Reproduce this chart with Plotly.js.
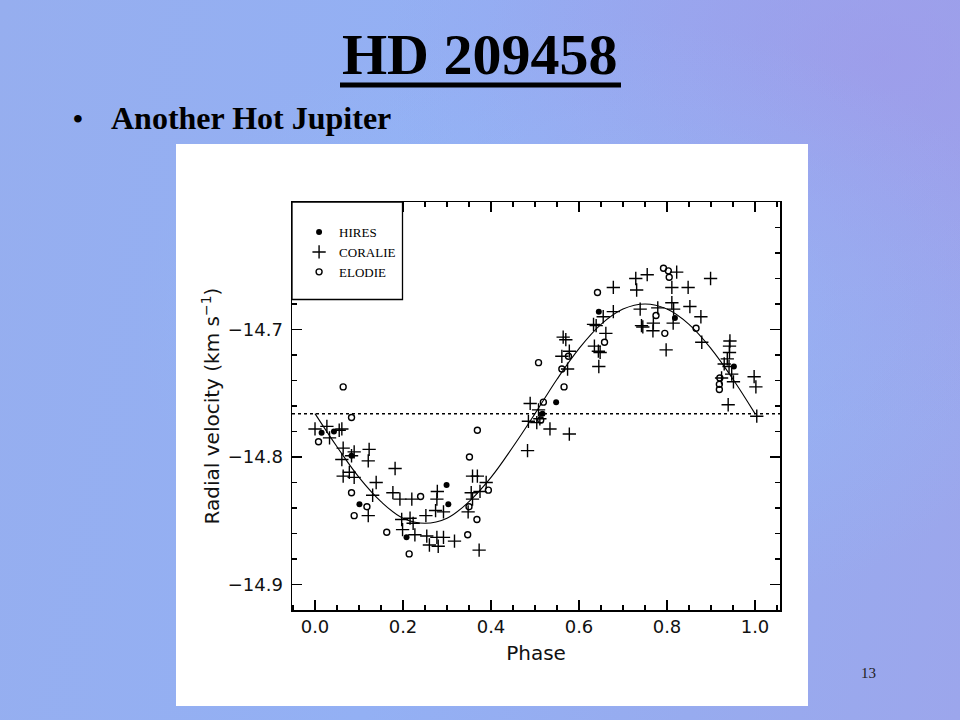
<!DOCTYPE html>
<html>
<head>
<meta charset="utf-8">
<script src="https://cdn.plot.ly/plotly-3.0.1.min.js"></script>
<style>
  html, body { margin: 0; padding: 0; }
  body {
    width: 960px; height: 720px; overflow: hidden;
    background:
      radial-gradient(ellipse at 62% 45%, rgba(150,190,250,0.55), rgba(150,190,250,0) 55%),
      radial-gradient(ellipse at 92% 8%, rgba(160,150,232,0.6), rgba(160,150,232,0) 40%),
      linear-gradient(100deg, #96aeef 0%, #93b0f4 45%, #97abef 75%, #9ca6ec 100%);
  }
  #chart { width: 960px; height: 720px; }
</style>
</head>
<body>
<div id="chart"></div>
<script>
// ---- data ----
const hiresPhase = [0.015, 0.043, 0.083, 0.101, 0.208, 0.299, 0.303, 0.517, 0.548, 0.645, 0.818, 0.952];
const hiresRV    = [-14.781, -14.780, -14.799, -14.837, -14.863, -14.822, -14.837, -14.766, -14.757, -14.686, -14.691, -14.729];

const elodiePhase = [0.064, 0.083, 0.008, 0.083, 0.118, 0.089, 0.163, 0.214, 0.240, 0.351, 0.369, 0.394, 0.350, 0.368, 0.347,
                     0.508, 0.519, 0.513, 0.566, 0.561, 0.576, 0.642, 0.658, 0.792, 0.803, 0.805, 0.775, 0.795, 0.866,
                     0.920, 0.919, 0.919];
const elodieRV    = [-14.745, -14.769, -14.788, -14.828, -14.839, -14.846, -14.859, -14.876, -14.831, -14.800, -14.779, -14.826, -14.839, -14.849, -14.861,
                     -14.726, -14.757, -14.771, -14.745, -14.731, -14.721, -14.671, -14.710, -14.652, -14.654, -14.659, -14.689, -14.703, -14.699,
                     -14.738, -14.743, -14.747];

const coraliePhase = [0.000, 0.027, 0.033, 0.055, 0.061, 0.064, 0.061, 0.089, 0.083, 0.123, 0.121, 0.064, 0.078, 0.089, 0.139,
                      0.182, 0.131, 0.177, 0.193, 0.121, 0.220, 0.278, 0.277, 0.274, 0.292, 0.252, 0.216, 0.223, 0.197,
                      0.199, 0.227, 0.254, 0.260, 0.277, 0.280, 0.292, 0.317, 0.373, 0.358, 0.369, 0.355, 0.375, 0.389,
                      0.358, 0.348,
                      0.489, 0.508, 0.485, 0.504, 0.511, 0.534, 0.578, 0.483, 0.564, 0.570, 0.578, 0.561, 0.574,
                      0.633, 0.639, 0.655, 0.678, 0.678, 0.635, 0.644, 0.648, 0.645, 0.661,
                      0.729, 0.755, 0.731, 0.739, 0.742, 0.745, 0.769, 0.768, 0.779, 0.798, 0.822, 0.811, 0.811, 0.815,
                      0.814, 0.848, 0.852, 0.877, 0.879, 0.899,
                      0.943, 0.942, 0.942, 0.937, 0.930, 0.941, 0.947, 0.951, 0.924, 0.939, 0.998, 1.002, 1.004];
const coralieRV    = [-14.778, -14.776, -14.785, -14.779, -14.778, -14.793, -14.802, -14.796, -14.799, -14.794, -14.803, -14.815, -14.812, -14.816, -14.820,
                      -14.809, -14.830, -14.828, -14.833, -14.846, -14.833, -14.827, -14.833, -14.842, -14.843, -14.846, -14.848, -14.852, -14.849,
                      -14.857, -14.861, -14.862, -14.869, -14.863, -14.870, -14.863, -14.866, -14.873, -14.815, -14.815, -14.828, -14.827, -14.820,
                      -14.833, -14.843,
                      -14.758, -14.763, -14.772, -14.773, -14.770, -14.778, -14.782, -14.795, -14.706, -14.708, -14.717, -14.721, -14.731,
                      -14.696, -14.697, -14.690, -14.686, -14.667, -14.713, -14.717, -14.718, -14.729, -14.703,
                      -14.660, -14.657, -14.669, -14.684, -14.697, -14.698, -14.695, -14.701, -14.683, -14.716, -14.655, -14.667, -14.679, -14.684,
                      -14.695, -14.667, -14.682, -14.690, -14.710, -14.660,
                      -14.709, -14.713, -14.718, -14.723, -14.727, -14.729, -14.735, -14.741, -14.738, -14.759, -14.737, -14.745, -14.768];

const fitPhase = [0.00, 0.05, 0.10, 0.15, 0.20, 0.25, 0.30, 0.35, 0.40, 0.45, 0.50,
                  0.55, 0.60, 0.65, 0.70, 0.75, 0.80, 0.85, 0.90, 0.95, 1.00];
const fitRV    = [-14.766, -14.792, -14.816, -14.835, -14.848, -14.852, -14.848, -14.835, -14.816, -14.792, -14.766,
                  -14.739, -14.715, -14.696, -14.684, -14.680, -14.684, -14.696, -14.715, -14.739, -14.766];

const systemicRV = -14.766;

const yTickVals = [-14.9, -14.8, -14.7];
const xTickVals = [0.0, 0.2, 0.4, 0.6, 0.8, 1.0];

const slideTitle = "HD 209458";
const bulletText = "Another Hot Jupiter";
const pageNumber = "13";

// ---- layout geometry (pixels -> paper coords) ----
const M = {l: 292, r: 180, t: 202, b: 110};
const PW = 960 - M.l - M.r, PH = 720 - M.t - M.b;
const px = x => (x - M.l) / PW;
const py = y => (720 - M.b - y) / PH;

const serif = "Liberation Serif, Times New Roman, serif";
const sans = "DejaVu Sans, sans-serif";

const traces = [
  {x: hiresPhase, y: hiresRV, name: "HIRES", type: "scatter", mode: "markers",
   marker: {symbol: "circle", size: 6, color: "black"}},
  {x: coraliePhase, y: coralieRV, name: "CORALIE", type: "scatter", mode: "markers",
   marker: {symbol: "cross-thin-open", size: 9.5, color: "black", line: {width: 1.4, color: "black"}}},
  {x: elodiePhase, y: elodieRV, name: "ELODIE", type: "scatter", mode: "markers",
   marker: {symbol: "circle-open", size: 6, color: "black", line: {width: 1.4, color: "black"}}},
  {x: fitPhase, y: fitRV, name: "fit", type: "scatter", mode: "lines", showlegend: false,
   line: {shape: "spline", smoothing: 1.1, color: "black", width: 1.1}}
];

const axisCommon = {
  showline: true, linecolor: "black", linewidth: 1.5, mirror: "ticks",
  ticks: "inside", ticklen: 10, tickwidth: 1.2, tickcolor: "black",
  showgrid: false, zeroline: false,
  tickfont: {family: sans, size: 18, color: "#111"},
  minor: {ticks: "inside", ticklen: 5, tickwidth: 1.1, tickcolor: "black", showgrid: false}
};

const layout = {
  width: 960, height: 720,
  margin: M,
  paper_bgcolor: "rgba(0,0,0,0)",
  plot_bgcolor: "white",
  showlegend: true,
  legend: {x: 0.0145, y: 0.963, xanchor: "left", yanchor: "top",
           bgcolor: "rgba(0,0,0,0)", borderwidth: 0,
           font: {family: serif, size: 13, color: "black"},
           itemwidth: 30, tracegroupgap: 0},
  xaxis: Object.assign({}, axisCommon, {
    range: [-0.0523, 1.0568], tickvals: xTickVals, tickformat: ".1f",
    minor: Object.assign({}, axisCommon.minor, {dtick: 0.05, tick0: 0}),
    title: {text: "Phase", font: {family: sans, size: 20, color: "#111"}, standoff: 10}
  }),
  yaxis: Object.assign({}, axisCommon, {
    range: [-14.92, -14.6], tickvals: yTickVals, tickformat: ".1f",
    ticklabelstandoff: 4,
    minor: Object.assign({}, axisCommon.minor, {dtick: 0.02, tick0: -14.6}),
    title: {text: "Radial velocity (km s<sup>−1</sup>)", font: {family: sans, size: 20, color: "#111"}, standoff: 2}
  }),
  shapes: [
    // white picture area
    {type: "rect", xref: "paper", yref: "paper", layer: "below",
     x0: px(176), x1: px(808), y0: py(706), y1: py(144),
     fillcolor: "white", line: {width: 0}},
    // systemic velocity dotted line
    {type: "line", xref: "paper", yref: "y", x0: 0, x1: 1, y0: systemicRV, y1: systemicRV,
     line: {color: "black", width: 1.5, dash: "dot"}},
    // legend box
    {type: "rect", xref: "paper", yref: "paper", layer: "above",
     x0: 0, x1: px(402.5), y0: py(299.5), y1: 1,
     fillcolor: "white", line: {color: "black", width: 1.3}},
    // title underline
    {type: "line", xref: "paper", yref: "paper",
     x0: px(340), x1: px(621), y0: py(85), y1: py(85),
     line: {color: "black", width: 5}}
  ],
  annotations: [
    {text: "<b>" + slideTitle + "</b>", xref: "paper", yref: "paper", x: px(480), y: py(55),
     xanchor: "center", yanchor: "middle", showarrow: false,
     font: {family: serif, size: 58, color: "black"}},
    {text: "<b>•</b>", xref: "paper", yref: "paper", x: px(78), y: py(118),
     xanchor: "center", yanchor: "middle", showarrow: false,
     font: {family: serif, size: 28, color: "black"}},
    {text: "<b>" + bulletText + "</b>", xref: "paper", yref: "paper", x: px(109), y: py(118),
     xanchor: "left", yanchor: "middle", showarrow: false,
     font: {family: serif, size: 32, color: "black"}},
    {text: pageNumber, xref: "paper", yref: "paper", x: px(868), y: py(673),
     xanchor: "center", yanchor: "middle", showarrow: false,
     font: {family: serif, size: 15, color: "#222"}}
  ]
};

Plotly.newPlot("chart", traces, layout, {displayModeBar: false, staticPlot: true});
</script>
</body>
</html>
